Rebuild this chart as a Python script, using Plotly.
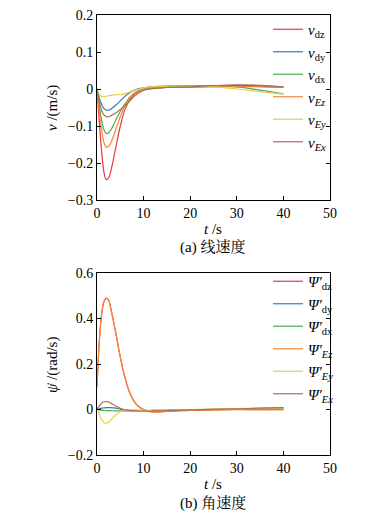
import plotly.graph_objects as go

# ---------------- data ----------------
t = [0, 0.5, 1, 1.5, 2, 2.5, 3, 4, 5, 6, 7, 8, 9, 10, 11, 12, 13, 15, 20, 25, 30, 35, 40]

v_dz = [0, -0.09, -0.17, -0.225, -0.245, -0.24, -0.22, -0.16, -0.10, -0.055, -0.03, -0.015, -0.007, -0.002, 0.0, 0.002, 0.003, 0.004, 0.005, 0.007, 0.008, 0.007, 0.004]
v_dy = [0, -0.025, -0.042, -0.053, -0.057, -0.057, -0.054, -0.044, -0.032, -0.02, -0.01, -0.003, 0.001, 0.003, 0.005, 0.006, 0.007, 0.008, 0.008, 0.009, 0.010, 0.009, 0.005]
v_dx = [0, -0.045, -0.085, -0.11, -0.12, -0.118, -0.11, -0.085, -0.06, -0.04, -0.023, -0.011, -0.004, 0.0, 0.003, 0.004, 0.006, 0.007, 0.008, 0.009, 0.006, -0.003, -0.013]
v_Ez = [0, -0.06, -0.11, -0.145, -0.157, -0.155, -0.145, -0.11, -0.075, -0.045, -0.025, -0.012, -0.005, -0.001, 0.001, 0.002, 0.003, 0.004, 0.005, 0.006, 0.006, 0.006, 0.005]
v_Ey = [0, -0.015, -0.02, -0.021, -0.02, -0.018, -0.017, -0.015, -0.015, -0.013, -0.008, -0.003, 0.0, 0.003, 0.005, 0.006, 0.007, 0.008, 0.007, 0.006, 0.0, -0.007, -0.014]
v_Ex = [0, -0.035, -0.058, -0.07, -0.075, -0.075, -0.072, -0.065, -0.055, -0.045, -0.033, -0.02, -0.01, -0.004, -0.001, 0.001, 0.002, 0.004, 0.006, 0.009, 0.011, 0.010, 0.006]

w_dz = [0.1, 0.3, 0.42, 0.475, 0.49, 0.48, 0.44, 0.34, 0.23, 0.14, 0.075, 0.035, 0.012, 0.0, -0.007, -0.01, -0.01, -0.008, -0.004, -0.002, 0.0, 0.0, 0.0]
w_dy = [0, 0.003, 0.006, 0.007, 0.008, 0.008, 0.008, 0.006, 0.002, -0.002, -0.003, -0.004, -0.004, -0.005, -0.005, -0.004, -0.004, -0.004, -0.001, 0.001, 0.003, 0.005, 0.006]
w_dx = [0, -0.002, -0.003, -0.004, -0.005, -0.005, -0.005, -0.006, -0.006, -0.006, -0.006, -0.006, -0.005, -0.005, -0.005, -0.004, -0.004, -0.003, -0.001, 0.001, 0.003, 0.004, 0.005]
w_Ez = [0.1, 0.3, 0.42, 0.475, 0.49, 0.48, 0.44, 0.34, 0.23, 0.14, 0.075, 0.035, 0.012, 0.0, -0.007, -0.01, -0.01, -0.008, -0.004, -0.002, -0.001, -0.002, -0.002]
w_Ey = [0.01, -0.02, -0.045, -0.057, -0.06, -0.056, -0.045, -0.025, -0.01, -0.003, -0.002, -0.003, -0.003, -0.004, -0.004, -0.004, -0.003, -0.003, 0.0, 0.002, 0.004, 0.005, 0.006]
w_Ex = [0, 0.015, 0.028, 0.034, 0.035, 0.033, 0.027, 0.015, 0.005, -0.002, -0.005, -0.006, -0.007, -0.007, -0.007, -0.006, -0.006, -0.005, -0.002, 0.001, 0.003, 0.006, 0.008]

top_names = ["<i>v</i><sub>dz</sub>", "<i>v</i><sub>dy</sub>", "<i>v</i><sub>dx</sub>",
             "<i>v</i><sub><i>Ez</i></sub>", "<i>v</i><sub><i>Ey</i></sub>", "<i>v</i><sub><i>Ex</i></sub>"]
bot_names = ["<i>Ψ′</i><sub>dz</sub>", "<i>Ψ′</i><sub>dy</sub>", "<i>Ψ′</i><sub>dx</sub>",
             "<i>Ψ′</i><sub><i>Ez</i></sub>", "<i>Ψ′</i><sub><i>Ey</i></sub>", "<i>Ψ′</i><sub><i>Ex</i></sub>"]
colors = ["#e8383d", "#3b78b8", "#4eac4e", "#f5893a", "#e6cf4a", "#a8705a"]

top_series = [v_dz, v_dy, v_dx, v_Ez, v_Ey, v_Ex]
bot_series = [w_dz, w_dy, w_dx, w_Ez, w_Ey, w_Ex]

FONT = "Liberation Serif"
CJK = "Liberation Serif, Noto Serif CJK SC, Noto Sans CJK SC, serif"
W, H = 375, 512

fig = go.Figure()
for i, (nm, ys, c) in enumerate(zip(top_names, top_series, colors)):
    fig.add_trace(go.Scatter(x=t, y=ys, name=nm, mode="lines",
                             line=dict(color=c, width=1.2, shape="spline"),
                             xaxis="x", yaxis="y", legend="legend"))
for i, (nm, ys, c) in enumerate(zip(bot_names, bot_series, colors)):
    fig.add_trace(go.Scatter(x=t, y=ys, name=nm, mode="lines",
                             line=dict(color=c, width=1.2, shape="spline"),
                             xaxis="x2", yaxis="y2", legend="legend2"))

def px_x(p):
    return p / W

def px_y(p):
    return 1 - p / H

axis_common = dict(showline=True, linecolor="black", linewidth=1, ticks="inside",
                   ticklen=4, tickcolor="black", showgrid=False, zeroline=False,
                   automargin=False,
                   tickfont=dict(family=FONT, size=14, color="black"))

fig.update_layout(
    width=W, height=H,
    margin=dict(l=0, r=0, t=0, b=0),
    paper_bgcolor="white", plot_bgcolor="white",
    font=dict(family=FONT, size=14, color="black"),
    xaxis=dict(domain=[px_x(97), px_x(330)], range=[0, 50], dtick=10, anchor="y",
               mirror=True, **axis_common),
    yaxis=dict(domain=[px_y(200), px_y(15)], range=[-0.3, 0.2], dtick=0.1, anchor="x",
               mirror="ticks", **axis_common),
    xaxis2=dict(domain=[px_x(97), px_x(330)], range=[0, 50], dtick=10, anchor="y2",
                mirror=True, **axis_common),
    yaxis2=dict(domain=[px_y(455), px_y(273)], range=[-0.2, 0.6], dtick=0.2, anchor="x2",
                mirror="ticks", **axis_common),
    legend=dict(x=px_x(268), y=px_y(13), xanchor="left", yanchor="top",
                bgcolor="rgba(0,0,0,0)",
                font=dict(family=FONT, size=15, color="black")),
    legend2=dict(x=px_x(268), y=px_y(265), xanchor="left", yanchor="top",
                 bgcolor="rgba(0,0,0,0)",
                 font=dict(family=FONT, size=15, color="black")),
    showlegend=True,
)

ann = [
    dict(text="<i>v</i> /(m/s)", x=px_x(52), y=px_y(108), textangle=-90),
    dict(text="<i>t</i> /s", x=px_x(213), y=px_y(229)),
    dict(text="(a) 线速度", x=px_x(213), y=px_y(247)),
    dict(text="<i>ψ</i>\u0307 /(rad/s)", x=px_x(52), y=px_y(365), textangle=-90),
    dict(text="<i>t</i> /s", x=px_x(213), y=px_y(484)),
    dict(text="(b) 角速度", x=px_x(213), y=px_y(503)),
]
for a in ann:
    fig.add_annotation(xref="paper", yref="paper", showarrow=False,
                       xanchor="center", yanchor="middle",
                       font=dict(family=CJK, size=15, color="black"), **a)

fig.write_html("out.html", config={"displayModeBar": False},
               post_script="document.body.style.margin='0';document.body.style.overflow='hidden';")
